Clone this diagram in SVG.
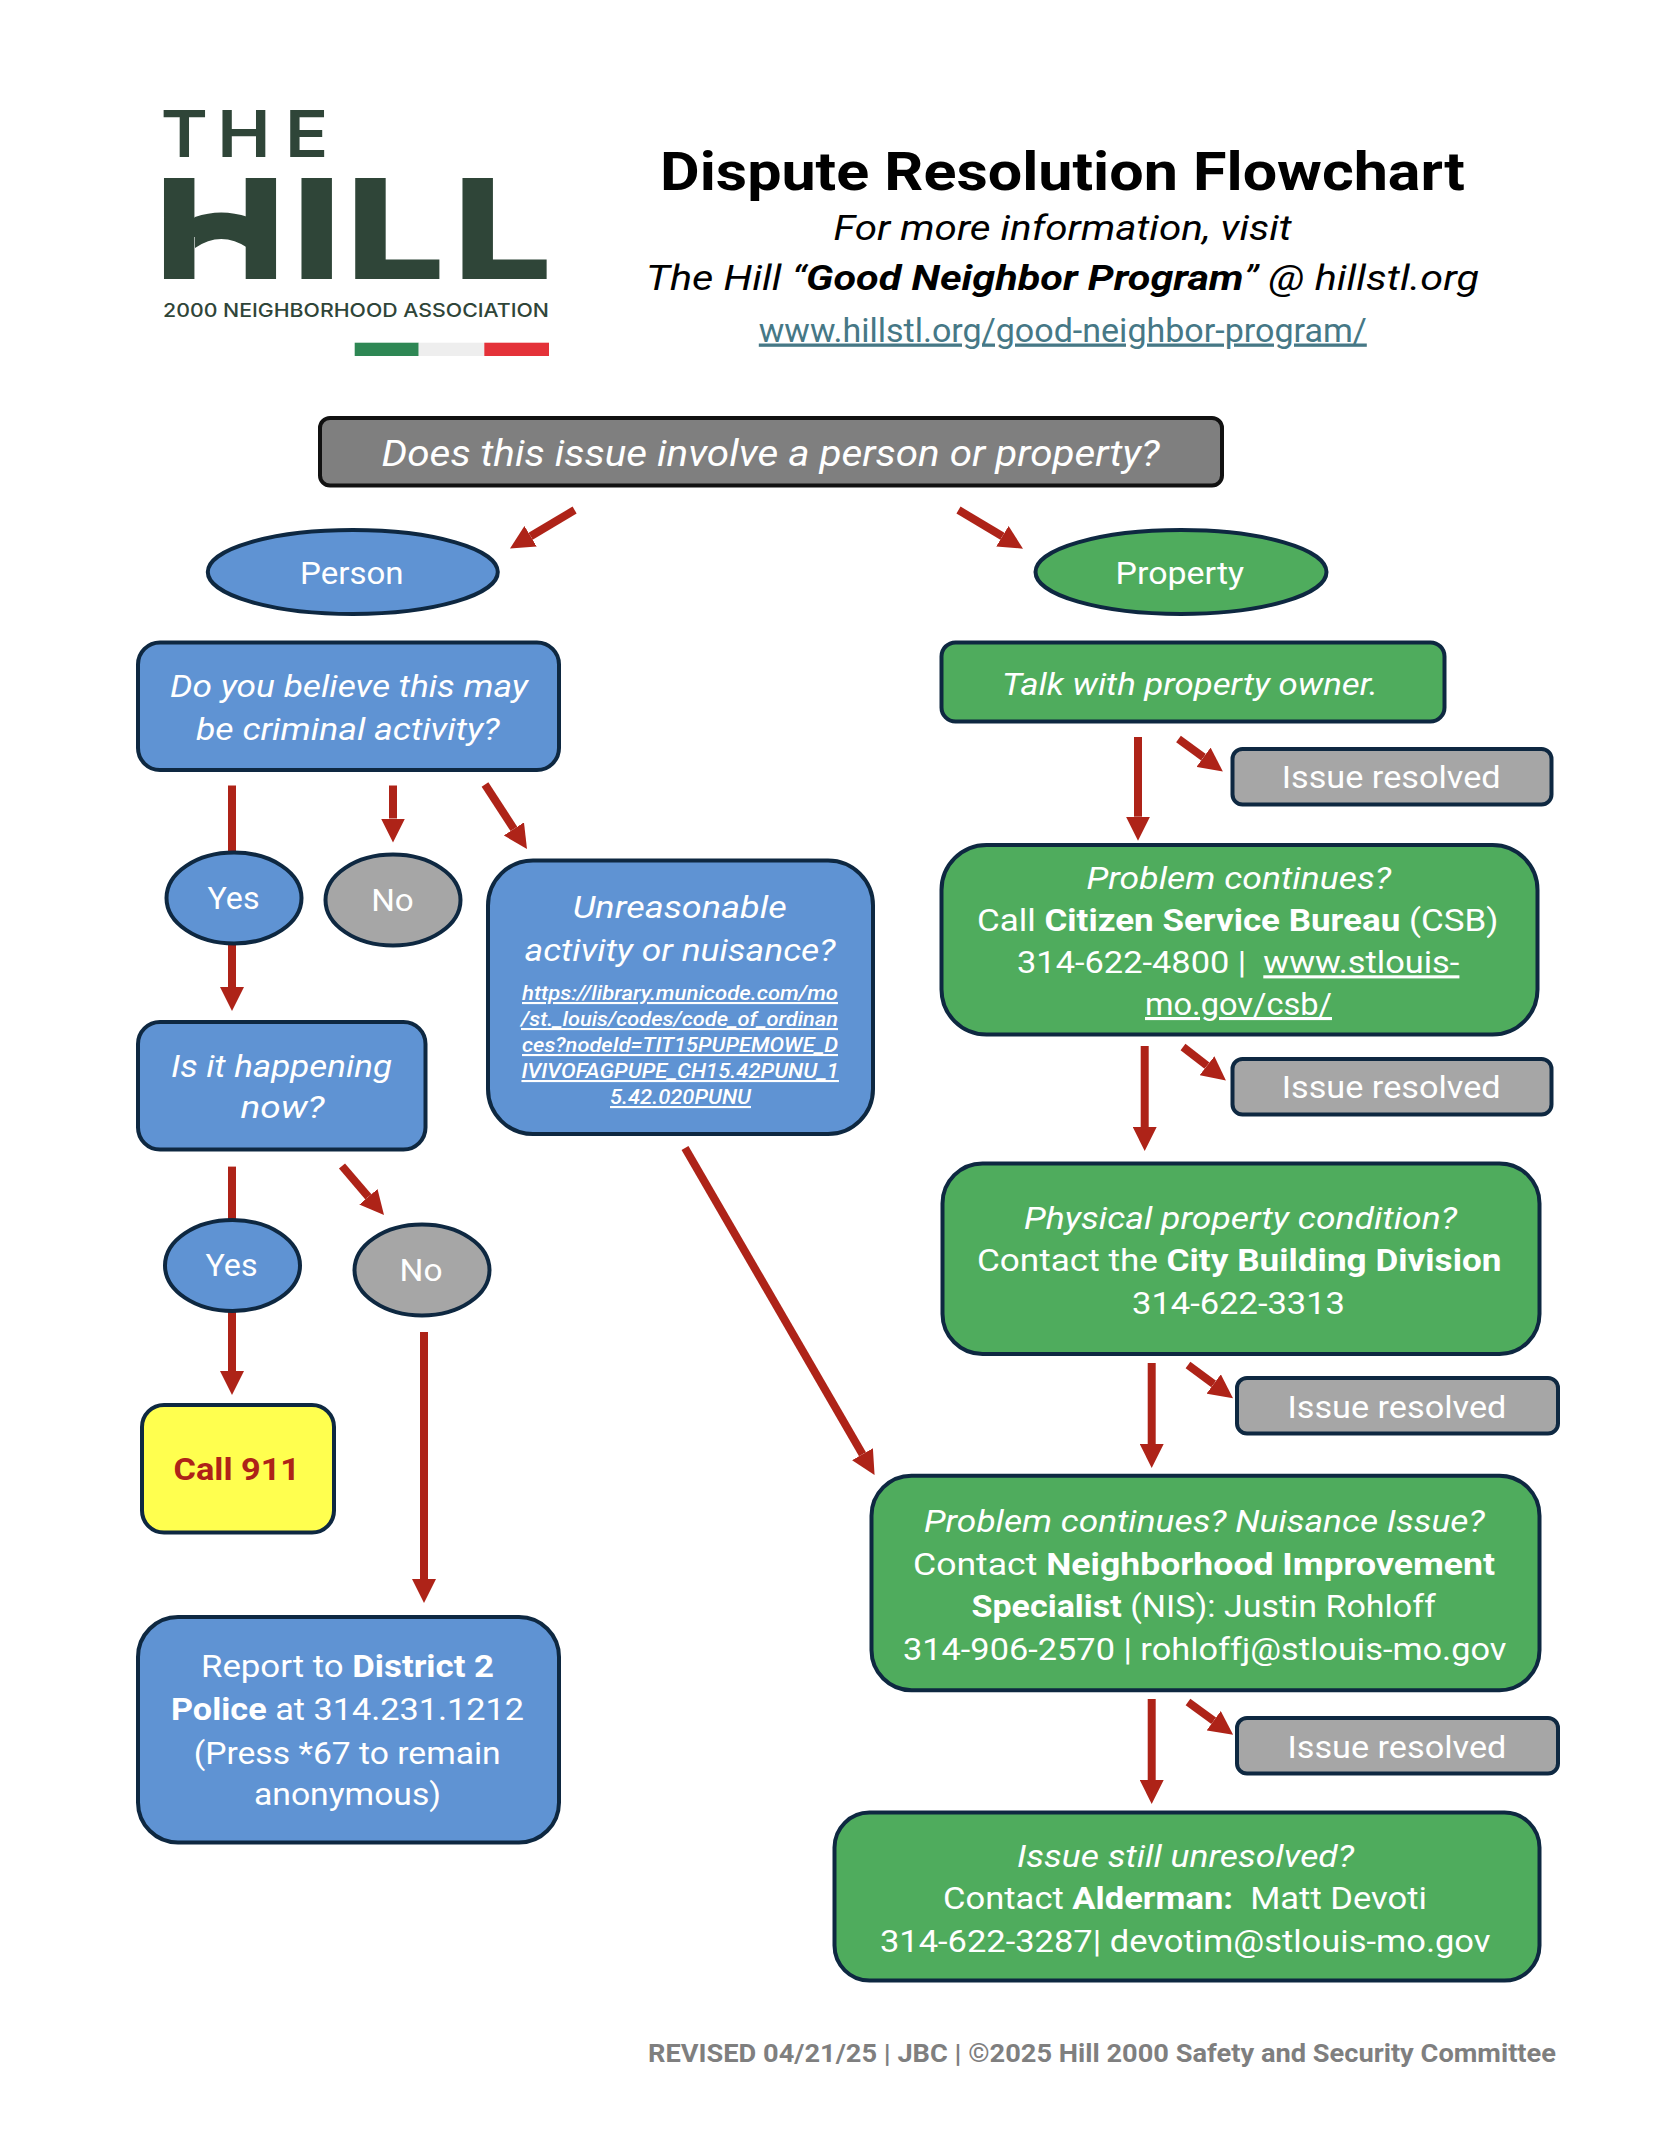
<svg xmlns="http://www.w3.org/2000/svg" width="1664" height="2148" viewBox="0 0 1664 2148">
<style>
text{font-family:Roboto,"Liberation Sans",sans-serif;text-anchor:middle}
.w{fill:#fff;font-size:31px}
.wi{fill:#fff;font-size:31px;font-style:italic}
.lk{fill:#fff;font-size:21px;font-style:italic;font-weight:500;text-decoration:underline}
.b{font-weight:700}
.node{stroke:#0e2841;stroke-width:4}
.blue{fill:#5f93d3}.green{fill:#4fac5d}.grey{fill:#a6a6a6}
.arr{stroke:#ae2318;stroke-width:8;fill:none}
.ah{marker-end:url(#head)}
.logo{fill:#2f4538}
.il{font-family:Inter,sans-serif;text-anchor:start}
</style>
<defs>
<marker id="head" viewBox="0 0 3 3" markerWidth="3" markerHeight="3" refX="0" refY="1.5" orient="auto" markerUnits="strokeWidth"><path d="M0,0L3,1.5L0,3z" fill="#ae2318"/></marker>
</defs>
<rect width="1664" height="2148" fill="#fff"/>
<g id="logo">
<text class="logo il" transform="translate(160.8,156.7) scale(1.1,1)" x="0 51.3 113" y="0" font-size="65" font-weight="600">THE</text>
<text class="logo il" transform="translate(154,279.3) scale(1.27,1)" x="0 108.3 150.6 235" y="0" font-size="139" font-weight="800">HILL</text>
<path class="logo" d="M195,217Q221,208 248,217V248Q221,230 195,248z"/>
<text class="logo il" style="text-anchor:middle" x="356" y="316.7" font-size="18.5" font-weight="500" textLength="386" lengthAdjust="spacingAndGlyphs">2000 NEIGHBORHOOD ASSOCIATION</text>
<rect x="354.7" y="342.7" width="64" height="13.3" fill="#2e8754"/>
<rect x="418.7" y="342.7" width="65.6" height="13.3" fill="#eee"/>
<rect x="484.3" y="342.7" width="64.7" height="13.3" fill="#e43239"/>
</g>
<g id="header">
<text x="1062.5" y="190" font-size="53" font-weight="700" fill="#000" textLength="805" lengthAdjust="spacingAndGlyphs">Dispute Resolution Flowchart</text>
<text x="1062.5" y="239.7" font-size="35" font-style="italic" fill="#000" textLength="458" lengthAdjust="spacingAndGlyphs">For more information, visit</text>
<text x="1062.5" y="289.5" font-size="35" font-style="italic" fill="#000" textLength="833" lengthAdjust="spacingAndGlyphs">The Hill “<tspan font-weight="700">Good Neighbor Program</tspan>” @ hillstl.org</text>
<text x="1062.8" y="341.5" font-size="33" fill="#467886" text-decoration="underline" textLength="608" lengthAdjust="spacingAndGlyphs">www.hillstl.org/good-neighbor-program/</text>
</g>
<g id="connectors">
<line class="arr ah" x1="574.6" y1="510" x2="530.6" y2="536.3"/>
<line class="arr ah" x1="958.5" y1="510" x2="1002.4" y2="536.3"/>
<line class="arr" x1="232" y1="785.5" x2="232" y2="856"/>
<line class="arr ah" x1="393" y1="785.5" x2="393" y2="818.5"/>
<line class="arr ah" x1="485" y1="784.5" x2="513.9" y2="828.9"/>
<line class="arr ah" x1="232" y1="942" x2="232" y2="987"/>
<line class="arr" x1="232" y1="1166.6" x2="232" y2="1222"/>
<line class="arr ah" x1="342" y1="1166" x2="368.4" y2="1196.8"/>
<line class="arr ah" x1="232" y1="1310" x2="232" y2="1371"/>
<line class="arr ah" x1="424" y1="1332" x2="424" y2="1579"/>
<line class="arr ah" x1="685" y1="1148" x2="862.5" y2="1454.2"/>
<g transform="translate(1,0)">
<line class="arr ah" x1="1137" y1="737" x2="1137" y2="816.7"/>
<line class="arr ah" x1="1177.5" y1="739" x2="1202.5" y2="757.3"/>
<line class="arr ah" x1="1143.7" y1="1046" x2="1143.7" y2="1127"/>
<line class="arr ah" x1="1182" y1="1047" x2="1206" y2="1065.7"/>
<line class="arr ah" x1="1150.7" y1="1363" x2="1150.7" y2="1444"/>
<line class="arr ah" x1="1187" y1="1365" x2="1212.7" y2="1384"/>
<line class="arr ah" x1="1150.7" y1="1699" x2="1150.7" y2="1780"/>
<line class="arr ah" x1="1187" y1="1702" x2="1212.7" y2="1720.7"/>
</g>
</g>
<g id="start">
<rect x="320" y="418" width="902" height="67.5" rx="10" fill="#7f7f7f" stroke="#111" stroke-width="4"/>
<text class="wi" x="770.5" y="465.5" style="font-size:37px" textLength="778" lengthAdjust="spacingAndGlyphs">Does this issue involve a person or property?</text>
</g>
<g id="person"><ellipse class="node blue" cx="352.8" cy="572" rx="145" ry="42"/><text class="w" x="351.8" y="584" textLength="103.6" lengthAdjust="spacingAndGlyphs">Person</text></g>
<g id="property"><ellipse class="node green" cx="1181" cy="572" rx="145.5" ry="42"/><text class="w" x="1179.8" y="584" textLength="128.5" lengthAdjust="spacingAndGlyphs">Property</text></g>
<g id="criminal"><rect class="node blue" x="138" y="642.5" width="421" height="127.5" rx="22"/>
<text class="wi" x="349" y="696.5" textLength="358" lengthAdjust="spacingAndGlyphs">Do you believe this may</text>
<text class="wi" x="347.8" y="739.6" textLength="303.6" lengthAdjust="spacingAndGlyphs">be criminal activity?</text></g>
<g id="yes1"><ellipse class="node blue" cx="234" cy="898" rx="67.5" ry="45.5"/><text class="w" x="233.5" y="909" textLength="52" lengthAdjust="spacingAndGlyphs">Yes</text></g>
<g id="no1"><ellipse class="node grey" cx="393" cy="900" rx="67.5" ry="45.5"/><text class="w" x="392.5" y="911" textLength="42.5" lengthAdjust="spacingAndGlyphs">No</text></g>
<g id="nuisance"><rect class="node blue" x="488" y="860.5" width="385" height="273.5" rx="45"/>
<text class="wi" x="679.7" y="918" textLength="214" lengthAdjust="spacingAndGlyphs">Unreasonable</text>
<text class="wi" x="680" y="960.7" textLength="311" lengthAdjust="spacingAndGlyphs">activity or nuisance?</text>
<text class="lk" x="680" y="1000" textLength="316" lengthAdjust="spacingAndGlyphs">https://library.municode.com/mo</text>
<text class="lk" x="679.5" y="1026" textLength="317" lengthAdjust="spacingAndGlyphs">/st._louis/codes/code_of_ordinan</text>
<text class="lk" x="680" y="1052" textLength="316" lengthAdjust="spacingAndGlyphs">ces?nodeId=TIT15PUPEMOWE_D</text>
<text class="lk" x="680.2" y="1078" textLength="317.5" lengthAdjust="spacingAndGlyphs">IVIVOFAGPUPE_CH15.42PUNU_1</text>
<text class="lk" x="680.5" y="1104" textLength="141" lengthAdjust="spacingAndGlyphs">5.42.020PUNU</text></g>
<g id="now"><rect class="node blue" x="138" y="1022" width="287.5" height="127.5" rx="22"/>
<text class="wi" x="281.5" y="1077" textLength="221" lengthAdjust="spacingAndGlyphs">Is it happening</text>
<text class="wi" x="282.5" y="1118" textLength="84" lengthAdjust="spacingAndGlyphs">now?</text></g>
<g id="yes2"><ellipse class="node blue" cx="232.5" cy="1265.5" rx="67.5" ry="45.5"/><text class="w" x="231.5" y="1276" textLength="52" lengthAdjust="spacingAndGlyphs">Yes</text></g>
<g id="no2"><ellipse class="node grey" cx="422" cy="1270" rx="67.5" ry="45.5"/><text class="w" x="421" y="1281" textLength="43" lengthAdjust="spacingAndGlyphs">No</text></g>
<g id="call911"><rect class="node" x="142" y="1405" width="192" height="127.5" rx="22" fill="#ffff4f"/>
<text x="236.8" y="1480" font-size="31" font-weight="700" fill="#ae2318" textLength="126.5" lengthAdjust="spacingAndGlyphs">Call 911</text></g>
<g id="report"><rect class="node blue" x="138" y="1617" width="421" height="225.5" rx="40"/>
<text class="w" x="347.5" y="1677" textLength="293" lengthAdjust="spacingAndGlyphs">Report to <tspan class="b">District 2</tspan></text>
<text class="w" x="347.5" y="1720" textLength="353" lengthAdjust="spacingAndGlyphs"><tspan class="b">Police</tspan> at 314.231.1212</text>
<text class="w" x="347.2" y="1763.5" textLength="307" lengthAdjust="spacingAndGlyphs">(Press *67 to remain</text>
<text class="w" x="347.5" y="1805" textLength="187" lengthAdjust="spacingAndGlyphs">anonymous)</text></g>
<g id="talk"><rect class="node green" x="941.5" y="642.4" width="503" height="79" rx="14"/>
<text class="wi" x="1190" y="694.5" textLength="376" lengthAdjust="spacingAndGlyphs">Talk with property owner.</text></g>
<g id="resolved1"><rect class="node grey" x="1232.5" y="749" width="319" height="55.5" rx="10"/><text class="w" x="1391.2" y="788" textLength="219" lengthAdjust="spacingAndGlyphs">Issue resolved</text></g>
<g id="csb"><rect class="node green" x="941.5" y="845" width="596" height="189.5" rx="45"/>
<text class="wi" x="1238.8" y="888.6" textLength="304.5" lengthAdjust="spacingAndGlyphs">Problem continues?</text>
<text class="w" x="1237.7" y="930.6" textLength="521.4" lengthAdjust="spacingAndGlyphs">Call <tspan class="b">Citizen Service Bureau</tspan> (CSB)</text>
<text class="w" x="1238.2" y="973.3" textLength="442.4" lengthAdjust="spacingAndGlyphs" xml:space="preserve">314-622-4800 |  <tspan text-decoration="underline">www.stlouis-</tspan></text>
<text class="w" x="1238.5" y="1015" textLength="187" lengthAdjust="spacingAndGlyphs" text-decoration="underline">mo.gov/csb/</text></g>
<g id="resolved2"><rect class="node grey" x="1232.5" y="1059" width="319" height="55.5" rx="10"/><text class="w" x="1391.2" y="1097.6" textLength="219" lengthAdjust="spacingAndGlyphs">Issue resolved</text></g>
<g id="building"><rect class="node green" x="942.5" y="1163.4" width="597" height="190.6" rx="40"/>
<text class="wi" x="1240.5" y="1228.7" textLength="433" lengthAdjust="spacingAndGlyphs">Physical property condition?</text>
<text class="w" x="1239.2" y="1271" textLength="524.5" lengthAdjust="spacingAndGlyphs">Contact the <tspan class="b">City Building Division</tspan></text>
<text class="w" x="1238.5" y="1314" textLength="213" lengthAdjust="spacingAndGlyphs">314-622-3313</text></g>
<g id="resolved3"><rect class="node grey" x="1237" y="1378" width="321" height="55.5" rx="10"/><text class="w" x="1396.9" y="1417.5" textLength="219" lengthAdjust="spacingAndGlyphs">Issue resolved</text></g>
<g id="nis"><rect class="node green" x="871.5" y="1475.7" width="668" height="214.5" rx="40"/>
<text class="wi" x="1204.3" y="1532" textLength="560.6" lengthAdjust="spacingAndGlyphs">Problem continues? Nuisance Issue?</text>
<text class="w" x="1204" y="1574.6" textLength="582" lengthAdjust="spacingAndGlyphs">Contact <tspan class="b">Neighborhood Improvement</tspan></text>
<text class="w" x="1203.7" y="1616.5" textLength="464.2" lengthAdjust="spacingAndGlyphs"><tspan class="b">Specialist</tspan> (NIS): Justin Rohloff</text>
<text class="w" x="1204.7" y="1660" textLength="603.5" lengthAdjust="spacingAndGlyphs">314-906-2570 | rohloffj@stlouis-mo.gov</text></g>
<g id="resolved4"><rect class="node grey" x="1237" y="1718" width="321" height="55.5" rx="10"/><text class="w" x="1396.9" y="1757.5" textLength="219" lengthAdjust="spacingAndGlyphs">Issue resolved</text></g>
<g id="alderman"><rect class="node green" x="834.5" y="1812.6" width="705" height="168" rx="35"/>
<text class="wi" x="1185.5" y="1866.5" textLength="337" lengthAdjust="spacingAndGlyphs">Issue still unresolved?</text>
<text class="w" x="1185" y="1909" textLength="484" lengthAdjust="spacingAndGlyphs" xml:space="preserve">Contact <tspan class="b">Alderman:</tspan>  Matt Devoti</text>
<text class="w" x="1185.2" y="1952" textLength="610.5" lengthAdjust="spacingAndGlyphs">314-622-3287| devotim@stlouis-mo.gov</text></g>
<g id="footer"><text x="1102" y="2061.5" font-size="26.5" font-weight="700" fill="#7f7f7f" textLength="908" lengthAdjust="spacingAndGlyphs">REVISED 04/21/25 | JBC | ©2025 Hill 2000 Safety and Security Committee</text></g>
</svg>
